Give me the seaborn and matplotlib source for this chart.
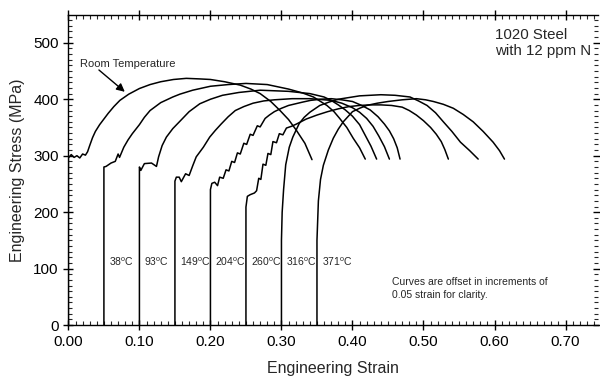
import pandas as pd
import numpy as np
import matplotlib
matplotlib.use('Agg')
import matplotlib.pyplot as plt
import seaborn as sns

# curvas tensao-deformacao, deformacao ja com o deslocamento de 0.05
rt_strain = [0.0, 0.0, 0.004, 0.008, 0.012, 0.016, 0.020, 0.024, 0.027, 0.030, 0.034, 0.038, 0.044,
             0.050, 0.056, 0.064, 0.0725, 0.085, 0.10, 0.115, 0.13, 0.148, 0.166, 0.185, 0.20,
             0.22, 0.242, 0.257, 0.27, 0.285, 0.298, 0.310, 0.321, 0.333, 0.343]
rt_stress = [0, 296, 302, 297, 300, 296, 303, 301, 307, 318, 332, 343, 355,
             365, 375, 387, 398, 409, 419, 426, 431, 435, 437, 436, 435,
             431, 425, 418, 410, 396, 380, 364, 345, 322, 293]

t38_strain = [0.05, 0.05, 0.053, 0.06, 0.066, 0.070, 0.072, 0.078, 0.084, 0.09, 0.10, 0.107, 0.115,
              0.13, 0.147, 0.157, 0.175, 0.20, 0.225, 0.25, 0.28, 0.31, 0.33, 0.345, 0.364,
              0.374, 0.382, 0.392, 0.401, 0.410, 0.418]
t38_stress = [0, 280, 281, 287, 290, 303, 297, 315, 328, 339, 355, 368, 380,
              394, 404, 409, 416, 423, 426, 428, 426, 418, 411, 404, 389,
              378, 366, 350, 331, 314, 294]

t93_strain = [0.10, 0.10, 0.102, 0.107, 0.117, 0.124, 0.127, 0.132, 0.138, 0.147, 0.157, 0.17,
              0.185, 0.20, 0.217, 0.24, 0.27, 0.31, 0.34, 0.36, 0.37, 0.38, 0.39, 0.40, 0.41,
              0.418, 0.426, 0.434]
t93_stress = [0, 280, 274, 286, 287, 281, 298, 318, 333, 348, 361, 378,
              392, 400, 407, 412, 416, 414, 410, 404, 398, 390, 381, 370, 355,
              336, 317, 294]

t149_strain = [0.15, 0.15, 0.152, 0.156, 0.159, 0.165, 0.170, 0.175, 0.180, 0.19, 0.199, 0.207,
               0.215, 0.225, 0.235, 0.247, 0.26, 0.275, 0.29, 0.315, 0.34, 0.37, 0.385, 0.40,
               0.41, 0.42, 0.429, 0.437, 0.445, 0.452]
t149_stress = [0, 255, 262, 262, 254, 268, 265, 282, 298, 315, 333, 345,
               356, 369, 380, 387, 393, 397, 399, 401, 401, 398, 393, 385,
               377, 366, 352, 335, 316, 294]

t204_strain = [0.20, 0.20, 0.202, 0.206, 0.210, 0.213, 0.218, 0.222, 0.226, 0.230, 0.234, 0.238,
               0.242, 0.247, 0.251, 0.256, 0.260, 0.266, 0.270, 0.277, 0.283, 0.29, 0.30, 0.31,
               0.32, 0.33, 0.341, 0.355, 0.37, 0.385, 0.40, 0.413, 0.425, 0.436, 0.445, 0.452,
               0.458, 0.463, 0.467]
t204_stress = [0, 240, 251, 253, 247, 262, 260, 275, 273, 290, 288, 305,
               303, 322, 320, 338, 336, 353, 351, 366, 372, 378, 384, 389,
               392, 395, 398, 400, 401, 399, 396, 389, 381, 369, 356, 344,
               330, 314, 294]

t260_strain = [0.25, 0.25, 0.252, 0.256, 0.262, 0.265, 0.268, 0.271, 0.274, 0.278, 0.281, 0.285,
               0.288, 0.293, 0.297, 0.302, 0.307, 0.314, 0.321, 0.335, 0.35, 0.365, 0.38, 0.395,
               0.41, 0.425, 0.44, 0.455, 0.47, 0.48, 0.49, 0.50, 0.51, 0.518, 0.525, 0.53, 0.535]
t260_stress = [0, 209, 228, 231, 234, 238, 260, 258, 285, 283, 304, 302,
               325, 323, 339, 337, 349, 352, 356, 365, 372, 378, 383, 387,
               389, 390, 390, 389, 386, 380, 372, 362, 350, 338, 325, 311, 294]

t316_strain = [0.30, 0.30, 0.301, 0.303, 0.306, 0.311, 0.316, 0.325, 0.332, 0.34, 0.354, 0.367,
               0.38, 0.395, 0.41, 0.425, 0.44, 0.46, 0.481, 0.493, 0.505, 0.517, 0.528, 0.540,
               0.552, 0.565, 0.577]
t316_stress = [0, 150, 200, 240, 284, 315, 333, 357, 368, 377, 389, 395,
               400, 403, 406, 407, 408, 407, 404, 397, 389, 376, 360, 343,
               324, 309, 294]

t371_strain = [0.35, 0.35, 0.352, 0.355, 0.359, 0.366, 0.373, 0.38, 0.387, 0.40, 0.41, 0.42,
               0.435, 0.45, 0.47, 0.49, 0.503, 0.514, 0.528, 0.542, 0.556, 0.570, 0.584, 0.598,
               0.607, 0.614]
t371_stress = [0, 150, 220, 258, 283, 310, 331, 347, 360, 378, 384, 389,
               393, 396, 399, 401, 399, 396, 391, 384, 373, 360, 343, 324,
               309, 294]

curvas = {
    'RT': (rt_strain, rt_stress),
    '38': (t38_strain, t38_stress),
    '93': (t93_strain, t93_stress),
    '149': (t149_strain, t149_stress),
    '204': (t204_strain, t204_stress),
    '260': (t260_strain, t260_stress),
    '316': (t316_strain, t316_stress),
    '371': (t371_strain, t371_stress),
}

temp_labels = ['38', '93', '149', '204', '260', '316', '371']
temp_offsets = [0.05, 0.10, 0.15, 0.20, 0.25, 0.30, 0.35]

linhas = []
for nome, (s, t) in curvas.items():
    linhas.append(pd.DataFrame({'strain': s, 'stress': t, 'curve': nome}))
df = pd.concat(linhas, ignore_index=True)

sns.set_theme(style='ticks')
plt.rcParams['font.family'] = ['Liberation Sans', 'DejaVu Sans']
plt.rcParams['mathtext.fontset'] = 'custom'
plt.rcParams['mathtext.rm'] = 'Liberation Sans'

fig = plt.figure(figsize=(6, 3.78), dpi=100)
ax = fig.add_axes([0.114, 0.140, 0.883, 0.820])

sns.lineplot(data=df, x='strain', y='stress', units='curve', estimator=None, sort=False,
             color='black', linewidth=1.1, ax=ax, legend=False)

ax.set_xlim(0, 0.746)
ax.set_ylim(0, 549)
ax.set_xticks(np.arange(0, 0.71, 0.1))
ax.set_xticklabels([f'{v:.2f}' for v in np.arange(0, 0.71, 0.1)])
ax.set_yticks([0, 100, 200, 300, 400, 500])
ax.set_xticks(np.arange(0, 0.75, 0.01), minor=True)
ax.set_yticks(np.arange(0, 550, 10), minor=True)
ax.tick_params(which='major', direction='inout', length=7, width=1, labelsize=11,
               top=True, right=True, colors='black')
ax.tick_params(which='minor', direction='in', length=3, width=0.8, top=True, right=True)
for lado in ['left', 'bottom', 'top']:
    ax.spines[lado].set_linewidth(1)
    ax.spines[lado].set_color('black')
ax.spines['right'].set_visible(False)

ax.set_xlabel('Engineering Strain', fontsize=11.5, labelpad=9)
ax.set_ylabel('Engineering Stress (MPa)', fontsize=11.5, labelpad=6)

ax.annotate('', xy=(0.0824, 410), xytext=(0.040, 455),
            arrowprops=dict(arrowstyle='-|>', color='black', lw=1, mutation_scale=12))
ax.text(0.017, 463, 'Room Temperature', fontsize=8, va='center', ha='left')
ax.text(0.601, 527, '1020 Steel\nwith 12 ppm N', fontsize=10.8, va='top', ha='left',
        linespacing=1.25)
ax.text(0.4556, 65, 'Curves are offset in increments of\n0.05 strain for clarity.',
        fontsize=7.5, va='center', ha='left', linespacing=1.4)
for lab, off in zip(temp_labels, temp_offsets):
    ax.text(off + 0.007, 112, lab + r'$^{\mathrm{o}}$C', fontsize=7.5, va='center', ha='left')

plt.savefig('out.png', dpi=100)
